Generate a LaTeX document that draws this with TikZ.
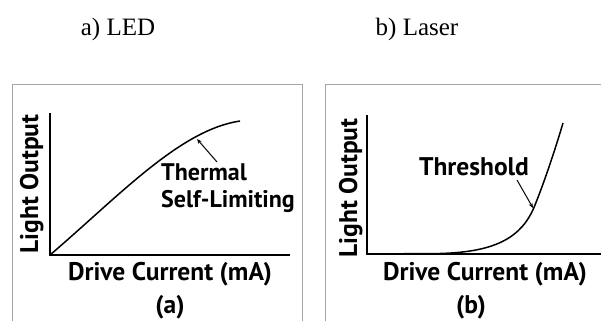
\documentclass[tikz,border=0pt]{standalone}
\usepackage{fontspec}
\setmainfont{Liberation Serif}
\newfontfamily\panelfont{PT Sans}
\usetikzlibrary{arrows.meta}
\tikzset{
  x=1pt, y=-1pt,
  frame/.style={draw=black!35, line width=1pt},
  axis/.style={draw=black, line width=2pt},
  curve/.style={draw=black, line width=1.5pt},
  pointer/.style={draw=black, line width=1pt, -{Stealth[length=5pt,width=4pt]}},
  title/.style={font=\fontsize{25}{28}\selectfont, inner sep=0pt},
  lab/.style={font=\panelfont\bfseries\fontsize{25.5}{28}\selectfont, inner sep=0pt},
  note/.style={font=\panelfont\bfseries\fontsize{24}{27}\selectfont, inner sep=0pt},
}
\begin{document}
\begin{tikzpicture}
\useasboundingbox (0,0) rectangle (601,321);
% titles
\node[title] (ta) at (118,29) {a) LED};
\node[title] (tb) at (417,29) {b) Laser};
% frames
\draw[frame] (12,321) -- (12,84) -- (302,84) -- (302,321);
\draw[frame] (325,321) -- (325,84) -- (601,84);
% left panel
\coordinate (oa) at (50,255);
\coordinate (ya) at (50,113);
\coordinate (xa) at (290,255);
\draw[axis] (ya) -- (oa) -- (xa);
\draw[curve] (oa) .. controls (120,195) and (180,130) .. (240,121);
\node[lab, rotate=90, anchor=base] (lya) at (38,184) {Light Output};
\node[lab, anchor=base] (dca) at (170,280) {Drive Current (mA)};
\node[lab] (pa) at (170,307.5) {(a)};
\node[note, anchor=base west] (thm1) at (161,180) {Thermal};
\node[note, anchor=base west] (thm2) at (161,207) {Self-Limiting};
\coordinate (tipa) at (197,139);
\draw[pointer] (217,162) -- (tipa);
% right panel
\coordinate (ob) at (367,254);
\coordinate (yb) at (367,115);
\coordinate (xb) at (601,254);
\draw[axis] (yb) -- (ob) -- (xb);
\draw[curve] (ob) -- (440,253.5) .. controls (495,252) and (522,238) .. (535,205) .. controls (545,180) and (555,150) .. (563,123);
\node[lab, rotate=90, anchor=base] (lyb) at (357,188) {Light Output};
\node[lab, anchor=base] (dcb) at (485,280) {Drive Current (mA)};
\node[lab] (pb) at (471,307.5) {(b)};
\node[lab, anchor=base] (thr) at (474,175) {Threshold};
\coordinate (tipb) at (533,208);
\draw[pointer] (517,180) -- (tipb);
\end{tikzpicture}
\end{document}
